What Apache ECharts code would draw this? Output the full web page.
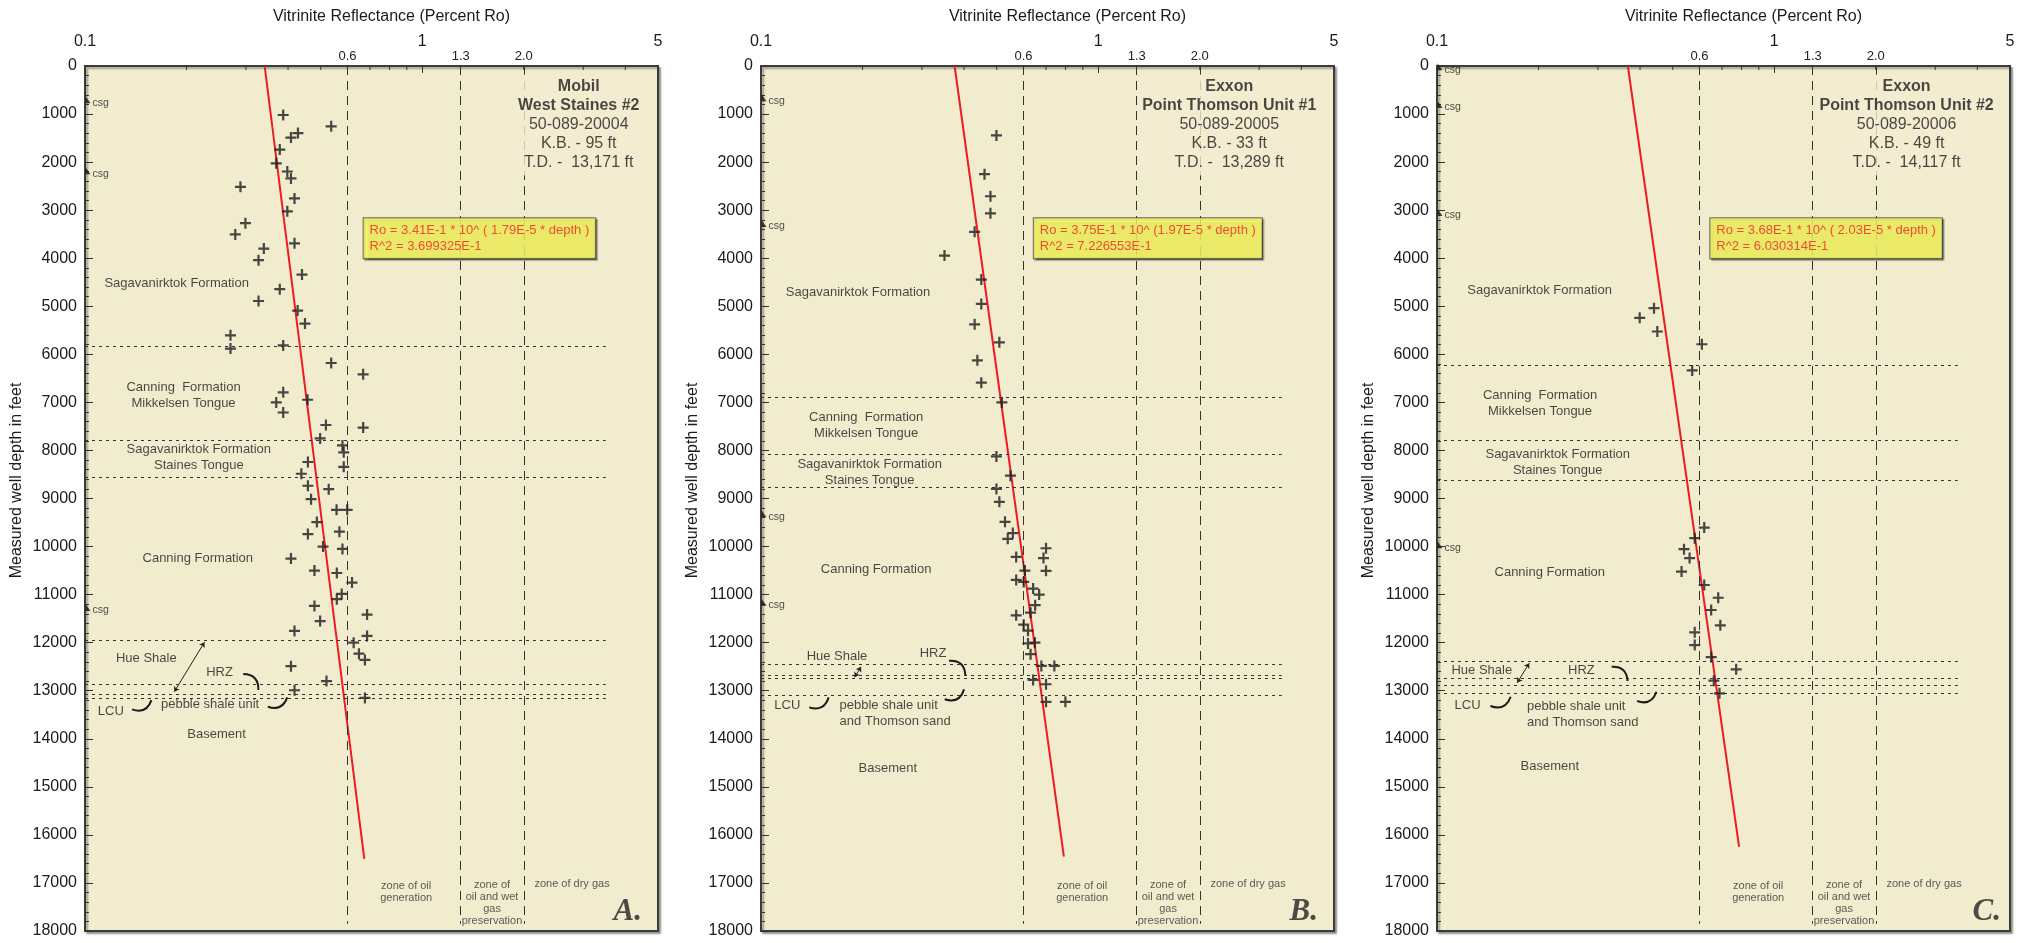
<!DOCTYPE html>
<html>
<head>
<meta charset="utf-8">
<title>Vitrinite reflectance profiles</title>
<script src="https://cdn.jsdelivr.net/npm/echarts@6/dist/echarts.min.js"></script>
<style>
  html, body { margin: 0; padding: 0; background: #ffffff; }
  #chart { width: 2028px; height: 943px; }
</style>
</head>
<body>
<div id="chart"></div>
<script>
// ---------------------------------------------------------------------------
// Vitrinite reflectance (percent Ro) against measured depth (ft) for three wells
// ---------------------------------------------------------------------------

// Mobil West Staines #2
const westStainesRo = [0.387,0.537,0.428,0.408,0.378,0.369,0.398,0.408,0.289,0.418,
  0.398,0.299,0.279,0.418,0.339,0.327,0.440,0.378,0.327,0.427,
  0.449,0.270,0.270,0.387,0.537,0.668,0.387,0.369,0.457,0.387,
  0.518,0.668,0.498,0.580,0.585,0.458,0.585,0.438,0.458,0.528,
  0.468,0.557,0.599,0.487,0.568,0.458,0.508,0.580,0.408,0.479,
  0.558,0.619,0.577,0.558,0.479,0.686,0.498,0.418,0.686,0.626,
  0.649,0.676,0.408,0.520,0.418,0.676];
const westStainesDepth = [1020,1255,1395,1490,1740,2025,2195,2340,2515,2755,
  3025,3270,3505,3690,3800,4040,4340,4645,4890,5090,
  5360,5605,5880,5815,6180,6415,6790,7000,6945,7210,
  7470,7525,7750,7895,8040,8240,8340,8485,8735,8805,
  9015,9235,9235,9490,9690,9740,10000,10050,10250,10500,
  10550,10750,10985,11095,11235,11415,11550,11755,11860,12000,
  12230,12360,12490,12800,12990,13150];

// Exxon Point Thomson Unit #1
const ptu1Ro = [0.499,0.460,0.479,0.479,0.430,0.350,0.450,0.450,0.430,0.509,
  0.438,0.450,0.518,0.499,0.549,0.499,0.509,0.529,0.558,0.539,
  0.700,0.571,0.688,0.606,0.700,0.571,0.601,0.641,0.668,0.650,
  0.630,0.571,0.601,0.619,0.619,0.649,0.630,0.678,0.741,0.641,
  0.700,0.700,0.799];
const ptu1Depth = [1445,2250,2710,3065,3450,3945,4445,4950,5375,5750,
  6125,6590,7000,8125,8525,8800,9070,9485,9720,9840,
  10035,10215,10240,10500,10505,10695,10735,10875,11000,11220,
  11375,11430,11625,11750,12015,12000,12240,12485,12485,12775,
  12865,13230,13230];

// Exxon Point Thomson Unit #2
const ptu2Ro = [0.440,0.399,0.450,0.610,0.571,0.620,0.581,0.540,0.561,0.531,
  0.620,0.682,0.650,0.692,0.581,0.581,0.650,0.771,0.662,0.688];
const ptu2Depth = [5040,5240,5525,5790,6335,9605,9825,10055,10240,10520,
  10800,11065,11320,11640,11785,12050,12300,12555,12790,13055];

// Regression Ro = a * 10^(b * depth): [a, b], R^2, depth range of the drawn fit
const fitWestStaines = [3.41e-1, 1.79e-5];
const fitPtu1 = [3.75e-1, 1.97e-5];
const fitPtu2 = [3.68e-1, 2.03e-5];
const r2WestStaines = 3.699325e-1;
const r2Ptu1 = 7.226553e-1;
const r2Ptu2 = 6.030314e-1;
const fitDepthWestStaines = [0, 16500];
const fitDepthPtu1 = [0, 16450];
const fitDepthPtu2 = [0, 16250];

// Formation boundaries (ft)
const topsWestStaines = [5830, 7785, 8555, 11950, 12860, 13080, 13150];
const topsPtu1 = [6900, 8070, 8770, 12450, 12680, 12750, 13085];
const topsPtu2 = [6220, 7780, 8610, 12390, 12740, 12880, 13055];

// Casing points (ft)
const casingWestStaines = [725, 2200, 11290];
const casingPtu1 = [680, 3300, 9340, 11180];
const casingPtu2 = [35, 820, 3070, 9985];

// Well headers
const headerWestStaines = ['Mobil', 'West Staines #2', '50-089-20004', 'K.B. - 95 ft', 'T.D. -  13,171 ft'];
const headerPtu1 = ['Exxon', 'Point Thomson Unit #1', '50-089-20005', 'K.B. - 33 ft', 'T.D. -  13,289 ft'];
const headerPtu2 = ['Exxon', 'Point Thomson Unit #2', '50-089-20006', 'K.B. - 49 ft', 'T.D. -  14,117 ft'];

// Maturity zone boundaries (percent Ro) and top-axis minor ticks
const zoneRo = [0.6, 1.3, 2.0];
const zoneTickLabels = ['0.6', '1.3', '2.0'];
const minorTickRo = [0.2, 0.3, 0.4, 0.5, 0.6, 0.7, 0.8, 0.9, 2, 3, 4];
const panelLetters = ['A.', 'B.', 'C.'];

// ---------------------------------------------------------------------------
// Layout and styling
// ---------------------------------------------------------------------------
const PANEL_STEP = 676;
const PLOT = { left: 85, top: 66, width: 573, height: 865 };
const FONT = "'Liberation Sans', Arial, Helvetica, sans-serif";
const SERIF = "'Liberation Serif', 'Times New Roman', serif";
const CREAM = '#F2ECCF';
const INK = '#1b1b1b';
const LINE_INK = '#333333';
const FRAME = '#3c3c3c';
const RED = '#EC1C24';
const PLUS = 'path://M4,0h2v4h4v2h-4v4h-2v-4h-4v-2h4z';
const CASING_MARK = 'path://M0,0L5,10L0,10Z';

// Annotation placement in (Ro, depth) for each panel
const annotationLayout = [
  {
    formations: [
      [0.187, 4520, 'Sagavanirktok Formation', 'center'],
      [0.196, 6850, 'Canning  Formation\nMikkelsen Tongue', 'center'],
      [0.2175, 8155, 'Sagavanirktok Formation\nStaines Tongue', 'center'],
      [0.216, 10250, 'Canning Formation', 'center'],
      [0.152, 12333, 'Hue Shale', 'center'],
      [0.2505, 12617, 'HRZ', 'center'],
      [0.1193, 13423, 'LCU', 'center'],
      [0.2349, 13292, 'pebble shale unit', 'center'],
      [0.2455, 13917, 'Basement', 'center']
    ],
    arrows: [[[0.226, 11992], [0.184, 13021]]],
    curves: [
      [[0.2946, 12652], [0.3266, 12985], 0.5],
      [[0.1379, 13388], [0.1574, 13194], -0.5],
      [[0.3484, 13333], [0.3978, 13138], -0.5]
    ],
    header: [2.91, 1229],
    equation: [0.670, 3170],
    letter: [4.48, 17600]
  },
  {
    formations: [
      [0.194, 4708, 'Sagavanirktok Formation', 'center'],
      [0.205, 7475, 'Canning  Formation\nMikkelsen Tongue', 'center'],
      [0.210, 8450, 'Sagavanirktok Formation\nStaines Tongue', 'center'],
      [0.2194, 10471, 'Canning Formation', 'center'],
      [0.168, 12277, 'Hue Shale', 'center'],
      [0.3236, 12222, 'HRZ', 'center'],
      [0.1197, 13313, 'LCU', 'center'],
      [0.1709, 13472, 'pebble shale unit\nand Thomson sand', 'left'],
      [0.2377, 14617, 'Basement', 'center']
    ],
    arrows: [[[0.198, 12500], [0.1894, 12721]]],
    curves: [
      [[0.361, 12375], [0.4036, 12673], 0.5],
      [[0.139, 13346], [0.1587, 13138], -0.5],
      [[0.3505, 13179], [0.4001, 12971], -0.5]
    ],
    header: [2.446, 1229],
    equation: [0.644, 3170],
    letter: [4.48, 17600]
  },
  {
    formations: [
      [0.2015, 4660, 'Sagavanirktok Formation', 'center'],
      [0.2021, 7016, 'Canning  Formation\nMikkelsen Tongue', 'center'],
      [0.228, 8241, 'Sagavanirktok Formation\nStaines Tongue', 'center'],
      [0.216, 10542, 'Canning Formation', 'center'],
      [0.1358, 12575, 'Hue Shale', 'center'],
      [0.268, 12575, 'HRZ', 'center'],
      [0.1232, 13313, 'LCU', 'center'],
      [0.185, 13495, 'pebble shale unit\nand Thomson sand', 'left'],
      [0.216, 14583, 'Basement', 'center']
    ],
    arrows: [[[0.1877, 12429], [0.1729, 12833]]],
    curves: [
      [[0.3295, 12500], [0.3673, 12798], 0.5],
      [[0.144, 13319], [0.1654, 13125], -0.5],
      [[0.392, 13215], [0.4474, 13021], -0.5]
    ],
    header: [2.468, 1229],
    equation: [0.646, 3170],
    letter: [4.7, 17600]
  }
];

const zoneTextLayout = [
  [0.896, 17183, 'zone of oil\ngeneration'],
  [1.61, 17408, 'zone of\noil and wet\ngas\npreservation'],
  [2.78, 17027, 'zone of dry gas']
];

const panels = [
  { ro: westStainesRo, depth: westStainesDepth, fit: fitWestStaines, r2: r2WestStaines,
    fitDepth: fitDepthWestStaines, tops: topsWestStaines, casing: casingWestStaines,
    header: headerWestStaines, tightEquation: false },
  { ro: ptu1Ro, depth: ptu1Depth, fit: fitPtu1, r2: r2Ptu1,
    fitDepth: fitDepthPtu1, tops: topsPtu1, casing: casingPtu1,
    header: headerPtu1, tightEquation: true },
  { ro: ptu2Ro, depth: ptu2Depth, fit: fitPtu2, r2: r2Ptu2,
    fitDepth: fitDepthPtu2, tops: topsPtu2, casing: casingPtu2,
    header: headerPtu2, tightEquation: false }
];

function fmtExp(v, digits) {
  return v.toExponential(digits).replace('e+', 'E').replace('e', 'E');
}

function equationText(fit, r2, tight) {
  return 'Ro = ' + fmtExp(fit[0], 2) + ' * 10^ ' + (tight ? '(' : '( ') +
    fmtExp(fit[1], 2) + ' * depth )\nR^2 = ' + fmtExp(r2, 6);
}

function fitRo(fit, d) {
  return fit[0] * Math.pow(10, fit[1] * d);
}

function buildSeries(p, i) {
  const L = annotationLayout[i];
  const axes = { xAxisIndex: i, yAxisIndex: i };

  // zone boundaries (dashed) and formation boundaries (dotted)
  const markLines = [];
  zoneRo.forEach((ro, k) => {
    markLines.push([
      { coord: [ro, 0],
        lineStyle: { type: [9, 6], color: LINE_INK, width: 1 },
        label: { show: true, position: 'start', distance: 3, formatter: zoneTickLabels[k],
                 fontSize: 13, color: '#222', fontFamily: FONT } },
      { coord: [ro, 17850] }
    ]);
  });
  p.tops.forEach(d => {
    markLines.push([
      { coord: [0.1, d], lineStyle: { type: [3, 4], color: LINE_INK, width: 1 }, label: { show: false } },
      { coord: [3.5, d] }
    ]);
  });

  const fitLine = {
    type: 'line', ...axes, z: 3, clip: false, silent: true,
    symbol: 'none',
    lineStyle: { color: RED, width: 2 },
    data: p.fitDepth.map(d => [fitRo(p.fit, d), d]),
    markLine: { silent: true, symbol: ['none', 'none'], animation: false, data: markLines }
  };

  const ticks = {
    type: 'custom', ...axes, z: 4, clip: false, silent: true,
    data: minorTickRo.map(v => [v, 0]),
    renderItem: (params, api) => {
      const pt = api.coord([api.value(0), 0]);
      return { type: 'line', shape: { x1: pt[0], y1: pt[1], x2: pt[0], y2: pt[1] + 4 },
               style: { stroke: LINE_INK, lineWidth: 1 } };
    }
  };

  const samples = {
    type: 'scatter', ...axes, z: 5, silent: true,
    symbol: PLUS, symbolSize: [11, 11],
    itemStyle: { color: INK },
    data: p.ro.map((r, k) => [r, p.depth[k]])
  };

  const casing = {
    type: 'scatter', ...axes, z: 5, clip: false, silent: true,
    symbol: CASING_MARK, symbolSize: [5, 7], symbolOffset: [3, -1],
    itemStyle: { color: '#111' },
    label: { show: true, position: 'right', distance: 2, offset: [0, 3], formatter: 'csg',
             fontSize: 10.5, color: '#222', fontFamily: FONT },
    data: p.casing.map(d => [0.1, d])
  };

  const arrows = {
    type: 'lines', coordinateSystem: 'cartesian2d', ...axes, z: 5, silent: true,
    symbol: ['arrow', 'arrow'], symbolSize: 5,
    lineStyle: { color: '#222', width: 1, opacity: 1 },
    data: L.arrows.map(c => ({ coords: c }))
  };

  const curves = {
    type: 'lines', coordinateSystem: 'cartesian2d', ...axes, z: 5, silent: true,
    symbol: ['none', 'none'],
    lineStyle: { color: '#1a1a1a', width: 2, opacity: 1 },
    data: L.curves.map(c => ({ coords: [c[0], c[1]], lineStyle: { curveness: c[2] } }))
  };

  const baseLabel = { show: true, position: [0, 0], fontFamily: FONT, color: INK };
  const texts = [];
  L.formations.forEach(f => {
    texts.push({ value: [f[0], f[1]], label: { ...baseLabel, formatter: f[2], align: f[3],
      verticalAlign: 'middle', fontSize: 13, lineHeight: 16 } });
  });
  zoneTextLayout.forEach(z => {
    texts.push({ value: [z[0], z[1]], label: { ...baseLabel, formatter: z[2], align: 'center',
      verticalAlign: 'middle', fontSize: 11, lineHeight: 12, color: '#333' } });
  });
  const h = p.header;
  texts.push({ value: L.header, label: { ...baseLabel,
    formatter: '{b|' + h[0] + '}\n{b|' + h[1] + '}\n' + h.slice(2).join('\n'),
    align: 'center', verticalAlign: 'middle', fontSize: 16, lineHeight: 19,
    backgroundColor: CREAM, padding: [3, 3],
    rich: { b: { fontWeight: 'bold', fontSize: 16, lineHeight: 19, color: INK, fontFamily: FONT } } } });
  texts.push({ value: L.equation, label: { ...baseLabel,
    formatter: equationText(p.fit, p.r2, p.tightEquation),
    align: 'left', verticalAlign: 'top', fontSize: 13, lineHeight: 16, color: '#EE2424',
    backgroundColor: '#FFFF62', borderColor: '#4a4a4a', borderWidth: 1, padding: [4, 6, 4, 6],
    shadowColor: 'rgba(0,0,0,0.45)', shadowOffsetX: 1.5, shadowOffsetY: 1.5, shadowBlur: 1 } });
  texts.push({ value: L.letter, label: { ...baseLabel, formatter: panelLetters[i],
    align: 'right', verticalAlign: 'middle', fontFamily: SERIF, fontStyle: 'italic',
    fontWeight: 'bold', fontSize: 31, color: '#222' } });

  const annotations = {
    type: 'scatter', ...axes, z: 6, silent: true, clip: false,
    symbolSize: 0,
    data: texts
  };

  return [fitLine, ticks, samples, casing, arrows, curves, annotations];
}

const chart = echarts.init(document.getElementById('chart'), null, { renderer: 'canvas' });

const option = {
  animation: false,
  backgroundColor: '#ffffff',
  textStyle: { fontFamily: FONT },
  grid: panels.map((p, i) => ({
    left: PLOT.left + i * PANEL_STEP, top: PLOT.top, width: PLOT.width, height: PLOT.height,
    show: true, backgroundColor: CREAM, borderColor: FRAME, borderWidth: 2,
    shadowColor: 'rgba(0,0,0,0.35)', shadowBlur: 2, shadowOffsetX: 2, shadowOffsetY: 2
  })),
  xAxis: panels.map((p, i) => ({
    gridIndex: i, type: 'log', logBase: 10, min: 0.1, max: 5, position: 'top',
    name: 'Vitrinite Reflectance (Percent Ro)', nameLocation: 'middle', nameGap: 41,
    nameTextStyle: { fontSize: 16, color: INK, padding: [0, 0, 0, 40] },
    axisLine: { show: true, onZero: false, lineStyle: { color: FRAME, width: 2 } },
    axisTick: { show: true, inside: true, length: 7, lineStyle: { color: LINE_INK } },
    axisLabel: { fontSize: 16, color: INK, margin: 16,
                 formatter: v => String(+Number(v).toPrecision(3)) },
    splitLine: { show: false }
  })),
  yAxis: panels.map((p, i) => ({
    gridIndex: i, type: 'value', inverse: true, min: 0, max: 18000, interval: 1000,
    name: 'Measured well depth in feet', nameLocation: 'middle', nameGap: 60,
    nameTextStyle: { fontSize: 16, color: INK, padding: [0, 0, 0, 36] },
    axisLine: { show: true, onZero: false, lineStyle: { color: FRAME, width: 2 } },
    axisTick: { show: true, inside: true, length: 8, lineStyle: { color: LINE_INK } },
    minorTick: { show: true, splitNumber: 5, length: 4, lineStyle: { color: LINE_INK } },
    axisLabel: { fontSize: 16, color: INK, margin: 8, formatter: v => String(v) },
    splitLine: { show: false },
    minorSplitLine: { show: false }
  })),
  series: panels.flatMap((p, i) => buildSeries(p, i))
};

chart.setOption(option);
</script>
</body>
</html>
